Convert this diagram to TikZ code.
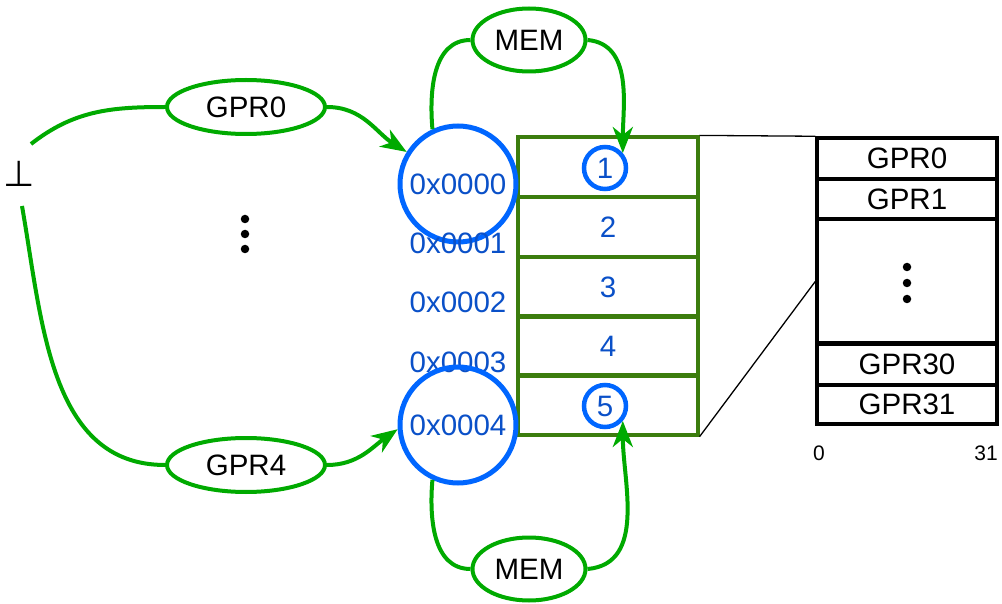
\documentclass[tikz,border=0pt]{standalone}
\usepackage{fontspec}
\setmainfont{Liberation Sans}
\newfontfamily\dejavu{DejaVu Sans}
\usetikzlibrary{arrows.meta,shapes.geometric}
\definecolor{ag}{HTML}{00AA00}
\definecolor{tg}{HTML}{3C7D0E}
\definecolor{cb}{HTML}{0066FF}
\definecolor{tb}{HTML}{0A50C8}
\tikzset{
  every node/.style={font=\fontsize{29.5}{34}\selectfont},
  oval/.style={draw=ag, line width=4pt, ellipse, minimum width=158pt, minimum height=54pt, inner sep=0pt},
  memoval/.style={draw=ag, line width=4pt, ellipse, minimum width=113pt, minimum height=63pt, inner sep=0pt},
  addr/.style={draw=cb, line width=5pt, circle, minimum size=116pt, inner sep=0pt, text=tb},
  small/.style={draw=cb, line width=4.5pt, circle, minimum size=42pt, inner sep=0pt, text=tb},
  lbl/.style={text=tb},
  conn/.style={draw=ag, line width=4pt, -{Stealth[length=26pt,width=20pt,inset=8pt]}},
  plain/.style={draw=ag, line width=4pt},
  cell/.style={draw=tg, line width=3.2pt, minimum width=180pt, minimum height=60pt, inner sep=0pt, text=tb},
  reg/.style={draw=black, line width=3.5pt, minimum width=180pt, inner sep=0pt},
  dot/.style={fill=black, circle, inner sep=0pt, minimum size=8.5pt}
}
\begin{document}
\begin{tikzpicture}[x=1pt,y=-1pt]
\useasboundingbox (0,0) rectangle (1002,604);
% bottom symbol
\node[font=\dejavu\fontsize{36}{40}\selectfont, inner sep=0pt] (bot) at (19,174) {⊥};
\coordinate (s1) at (31,144);
\coordinate (s2) at (22,206);
% ovals
\node[oval] (g0) at (246,107) {GPR0};
\node[oval] (g4) at (246,465) {GPR4};
\node[memoval] (m1) at (529,40) {MEM};
\node[memoval] (m2) at (529,569) {MEM};
% dots
\node[dot] (d1) at (245,219) {};
\node[dot] (d2) at (245,234) {};
\node[dot] (d3) at (245,249) {};
% memory cells
\node[cell] (r1) at (608,167) {};
\node[cell] (r2) at (608,227) {2};
\node[cell] (r3) at (608,287) {3};
\node[cell] (r4) at (608,346) {4};
\node[cell] (r5) at (608,405) {};
\node[small] (n1) at (605,168) {1};
\node[small] (n5) at (605,406) {5};
% address circles & labels
\node[addr] (c0) at (458,184) {0x0000};
\node[lbl] (a1) at (458,243) {0x0001};
\node[lbl] (a2) at (458,302) {0x0002};
\node[lbl] (a3) at (458,362) {0x0003};
\node[addr] (c4) at (458,425) {0x0004};
% register file
\node[reg, minimum height=41pt] (p0) at (907,158.5) {GPR0};
\node[reg, minimum height=40pt] (p1) at (907,199) {GPR1};
\node[reg, minimum height=125pt] (pm) at (907,281.5) {};
\node[reg, minimum height=42pt] (p30) at (907,364) {GPR30};
\node[reg, minimum height=39pt] (p31) at (907,404.5) {GPR31};
\node[dot] (e1) at (907,267) {};
\node[dot] (e2) at (907,283) {};
\node[dot] (e3) at (907,299) {};
\node[font=\fontsize{21}{24}\selectfont] (z0) at (819,453) {0};
\node[font=\fontsize{21}{24}\selectfont] (z31) at (986,453) {31};
% zoom lines
\draw[line width=1.3pt] (r1.north east) -- (p0.north west);
\draw[line width=1.3pt] (r5.south east) -- (pm.west);
% connectors
\draw[plain] (s1) to[out=38,in=180] (g0.west);
\draw[conn] (g0.east) to[out=0,in=148] (c0.148);
\draw[plain] (s2) to[out=-80,in=180] (g4.west);
\draw[conn] (g4.east) to[out=0,in=215] (c4.184);
\draw[plain] (c0.115) to[out=95,in=180] (m1.west);
\draw[conn] (m1.east) to[out=-5,in=90] (n1.40);
\draw[plain] (c4.245) to[out=-95,in=180] (m2.west);
\draw[conn] (m2.east) to[out=5,in=-90] (n5.-40);
\end{tikzpicture}
\end{document}
